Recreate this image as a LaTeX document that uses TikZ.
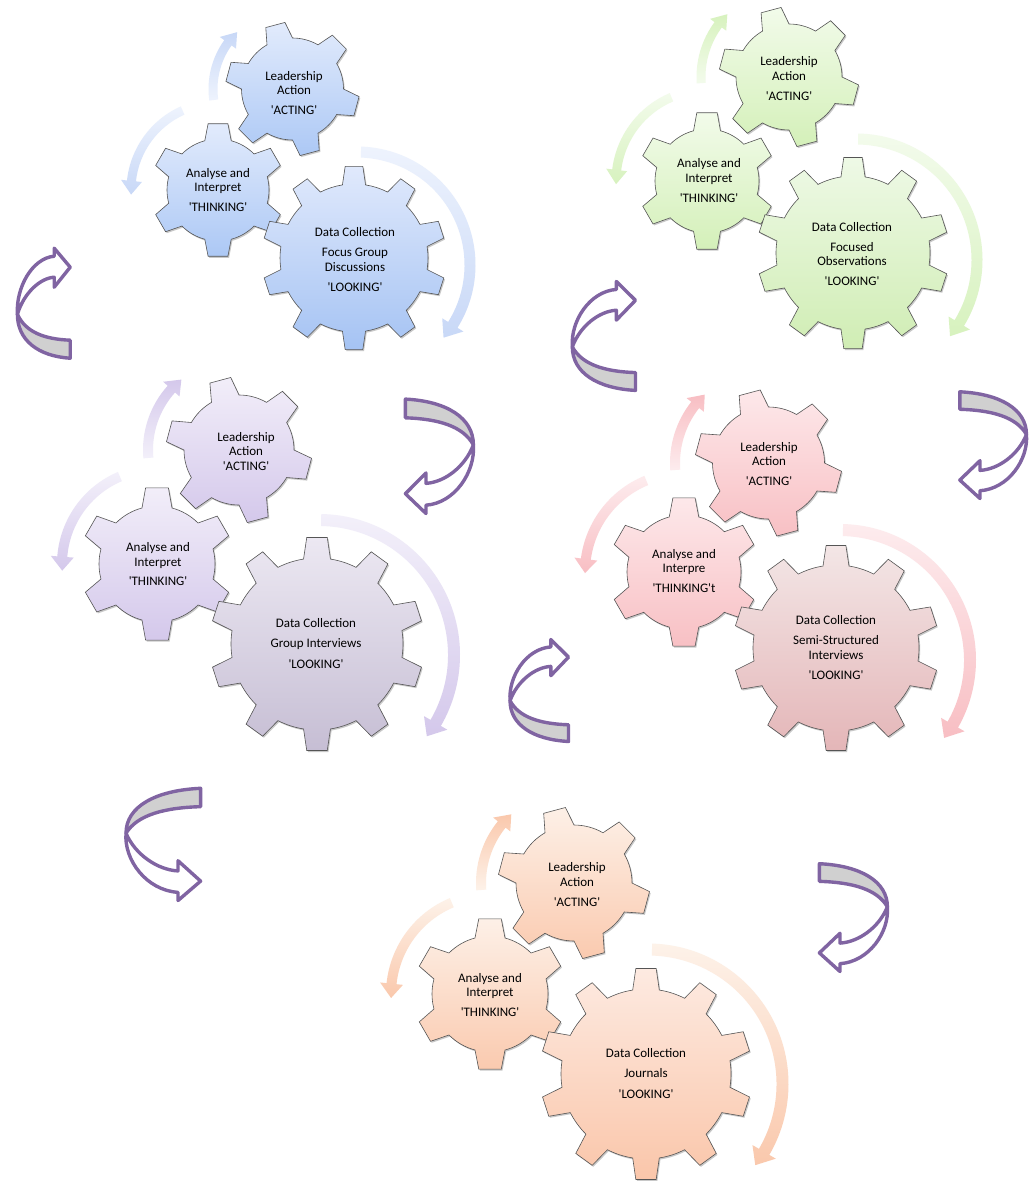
\documentclass[tikz,border=0pt]{standalone}
\usepackage{fontspec}
\setmainfont{Carlito}[Ligatures=TeXOff]
\usetikzlibrary{shadows}

\definecolor{upurple}{RGB}{128,100,162}
\definecolor{ugray}{RGB}{208,208,208}
\definecolor{gline}{RGB}{85,85,85}
% blue
\definecolor{bGT}{RGB}{226,235,252}\definecolor{bGB}{RGB}{172,200,245}
\definecolor{bDT}{RGB}{224,233,252}\definecolor{bDB}{RGB}{165,195,243}
\definecolor{bAl}{RGB}{238,243,253}\definecolor{bAd}{RGB}{200,216,247}
% green
\definecolor{gGT}{RGB}{242,251,234}\definecolor{gGB}{RGB}{212,240,185}
\definecolor{gDT}{RGB}{238,249,230}\definecolor{gDB}{RGB}{208,237,180}
\definecolor{gAl}{RGB}{243,251,236}\definecolor{gAd}{RGB}{215,242,190}
% purple
\definecolor{pGT}{RGB}{242,238,249}\definecolor{pGB}{RGB}{212,200,235}
\definecolor{pDT}{RGB}{236,232,242}\definecolor{pDB}{RGB}{198,190,212}
\definecolor{pAl}{RGB}{243,240,250}\definecolor{pAd}{RGB}{212,200,235}
% pink
\definecolor{kGT}{RGB}{253,232,234}\definecolor{kGB}{RGB}{248,192,196}
\definecolor{kDT}{RGB}{243,230,230}\definecolor{kDB}{RGB}{228,182,184}
\definecolor{kAl}{RGB}{253,236,238}\definecolor{kAd}{RGB}{248,190,195}
% orange
\definecolor{oGT}{RGB}{253,240,231}\definecolor{oGB}{RGB}{250,202,175}
\definecolor{oDT}{RGB}{253,234,225}\definecolor{oDB}{RGB}{250,198,170}
\definecolor{oAl}{RGB}{253,242,233}\definecolor{oAd}{RGB}{250,200,172}

\tikzset{
  gearbody/.style={draw=gline, line width=0.6pt,
    drop shadow={shadow xshift=1.2pt, shadow yshift=-1.5pt, opacity=0.3, fill=black!70}},
  gtxt/.style={align=center, font=\fontsize{13}{14.5}\selectfont, inner sep=0pt, text=black},
  uback/.style={fill=ugray, draw=upurple, line width=3.4pt, line join=round},
  ufront/.style={fill=white, draw=upurple, line width=3.4pt, line join=round}
}

% gear: #1 centre, #2 R, #3 r, #4 teeth, #5 offset, #6 tip half angle, #7 base half angle, #8 colours
\newcommand\mygear[8]{%
  \pgfmathsetmacro\gstep{360/#4}%
  \begin{scope}[shift={#1}]
    \path[gearbody,#8] ({#5-#7}:#3)
      \foreach \k in {1,...,#4}{
        -- ({#5+(\k-1)*\gstep-#6}:#2) -- ({#5+(\k-1)*\gstep+#6}:#2)
        -- ({#5+(\k-1)*\gstep+#7}:#3)
        arc[start angle={#5+(\k-1)*\gstep+#7}, end angle={#5+\k*\gstep-#7}, radius=#3]
      } -- cycle;
  \end{scope}}

% circular arrow: #1 centre, #2 radius, #3 tail angle, #4 head base angle, #5 tip angle, #6 shaft width, #7 head width, #8 colours
\newcommand\cyc[8]{%
  \begin{scope}[shift={#1}]
    \path[#8] (#3:{#2+#6/2}) arc[start angle=#3, end angle=#4, radius={#2+#6/2}]
      -- (#4:{#2+#7/2}) -- (#5:#2) -- (#4:{#2-#7/2}) -- (#4:{#2-#6/2})
      arc[start angle=#4, end angle=#3, radius={#2-#6/2}] -- cycle;
  \end{scope}}

% purple u-turn arrow
\newcommand\uturn[1]{%
  \begin{scope}[#1]
    \path[uback] (70,110) .. controls (30,108) and (4,92) .. (4,66)
      .. controls (14,84) and (38,91) .. (70,92) -- cycle;
    \path[ufront] (4,66) .. controls (2,40) and (22,10) .. (50,8) -- (50,0) -- (70,19)
      -- (50,39) -- (50,29) .. controls (32,30) and (12,45) .. (4,66) -- cycle;
  \end{scope}}

\begin{document}
\begin{tikzpicture}[x=1pt,y=-1pt]
\fill[white] (0,0) rectangle (1032,1181);
\useasboundingbox (0,0) rectangle (1032,1181);

% ---------- purple u-turn arrows ----------
\uturn{shift={(14.2,248.2)}, xscale=0.80, yscale=1.0}
\uturn{shift={(568.5,281.5)}, xscale=0.957, yscale=0.99}
\uturn{shift={(506.5,639.5)}, xscale=0.886, yscale=0.927}
\uturn{shift={(477.5,513.5)}, xscale=-1.03, yscale=-1.04}
\uturn{shift={(1030.5,498.5)}, xscale=-1.01, yscale=-0.97}
\uturn{shift={(891.5,971.5)}, xscale=-1.03, yscale=-0.98}
\uturn{shift={(121.5,900.5)}, xscale=1.13, yscale=-1.02}

% ---------- blue cluster ----------
\cyc{(292,89)}{79}{172}{215.8}{226}{9}{20}{top color=bAd, bottom color=bAl}
\cyc{(218,190)}{87}{246}{186}{177}{9}{21}{top color=bAl, bottom color=bAd}
\cyc{(357,265)}{113}{-88}{32}{40}{11}{25}{top color=bAl, bottom color=bAd}
\mygear{(292.5,89)}{67}{51}{6}{255}{8.5}{15}{top color=bGT, bottom color=bGB}
\mygear{(218,190)}{67}{51}{6}{270}{8.5}{15}{top color=bGT, bottom color=bGB}
\mygear{(354,258)}{92}{74}{10}{270}{5.5}{9}{top color=bDT, bottom color=bDB}
\node[gtxt] (bL) at (294,93) {Leadership\\Action\\[5.5pt]'ACTING'};
\node[gtxt] (bA) at (218,190) {Analyse and\\Interpret\\[5.5pt]'THINKING'};
\node[gtxt] (bD) at (355,259.5) {Data Collection\\[5.5pt]Focus Group\\Discussions\\[5.5pt]'LOOKING'};

% ---------- green cluster ----------
\cyc{(789,77)}{88}{176}{216.4}{225.5}{9}{20}{top color=gAd, bottom color=gAl}
\cyc{(707,181)}{91}{247}{187}{178}{9}{21}{top color=gAl, bottom color=gAd}
\cyc{(856,260)}{121}{-89}{31.4}{39}{11}{25}{top color=gAl, bottom color=gAd}
\mygear{(789,77)}{70}{53}{6}{255}{8.5}{15}{top color=gGT, bottom color=gGB}
\mygear{(707,181)}{69}{52}{6}{270}{8.5}{15}{top color=gGT, bottom color=gGB}
\mygear{(853,253)}{96}{77}{10}{270}{5.5}{9}{top color=gDT, bottom color=gDB}
\node[gtxt] (gL) at (789,79) {Leadership\\Action\\[6pt]'ACTING'};
\node[gtxt] (gA) at (709,181) {Analyse and\\Interpret\\[6pt]'THINKING'};
\node[gtxt] (gD) at (852,254) {Data Collection\\[5.5pt]Focused\\Observations\\[5.5pt]'LOOKING'};

% ---------- purple cluster ----------
\cyc{(239,450)}{91}{175}{222}{230.7}{10}{22}{top color=pAd, bottom color=pAl}
\cyc{(157,564)}{95}{247}{184.4}{176}{10}{23}{top color=pAl, bottom color=pAd}
\cyc{(319,655)}{135}{-89}{30.2}{37}{12}{27}{top color=pAl, bottom color=pAd}
\mygear{(239,450)}{73}{55}{6}{255}{8.5}{15}{top color=pGT, bottom color=pGB}
\mygear{(157,564)}{77}{58}{6}{270}{8.5}{15}{top color=pGT, bottom color=pGB}
\mygear{(317,644)}{107}{86}{10}{270}{5.5}{9}{top color=pDT, bottom color=pDB}
\node[gtxt] (pL) at (246,451.5) {Leadership\\Action\\'ACTING'};
\node[gtxt] (pA) at (158,564) {Analyse and\\Interpret\\[4.5pt]'THINKING'};
\node[gtxt] (pD) at (316,643.5) {Data Collection\\[5.5pt]Group Interviews\\[6pt]'LOOKING'};

% ---------- pink cluster ----------
\cyc{(768.5,463)}{93.5}{175.7}{218.4}{227}{10}{22}{top color=kAd, bottom color=kAl}
\cyc{(684,572)}{99}{247.6}{187.5}{179.4}{10}{23}{top color=kAl, bottom color=kAd}
\cyc{(840,660)}{130}{-88.7}{29.8}{36.8}{12}{27}{top color=kAl, bottom color=kAd}
\mygear{(768.5,463)}{73.5}{56}{6}{255}{8.5}{15}{top color=kGT, bottom color=kGB}
\mygear{(684,572)}{75}{57}{6}{270}{8.5}{15}{top color=kGT, bottom color=kGB}
\mygear{(836,648)}{103}{83}{10}{270}{5.5}{9}{top color=kDT, bottom color=kDB}
\node[gtxt] (kL) at (769,464) {Leadership\\Action\\[5.5pt]'ACTING'};
\node[gtxt] (kA) at (684,571) {Analyse and\\Interpre\\[5.5pt]'THINKING't};
\node[gtxt] (kD) at (836,647.5) {Data Collection\\[5.5pt]Semi-Structured\\Interviews\\[5.5pt]'LOOKING'};

% ---------- orange cluster ----------
\cyc{(574,883)}{93}{175.7}{219}{227.6}{10}{22}{top color=oAd, bottom color=oAl}
\cyc{(490,994)}{99}{247.3}{186}{177.7}{10}{23}{top color=oAl, bottom color=oAd}
\cyc{(648,1084)}{134.5}{-88.3}{30.3}{37.1}{12}{27}{top color=oAl, bottom color=oAd}
\mygear{(574,883)}{76}{58}{6}{255}{8.5}{15}{top color=oGT, bottom color=oGB}
\mygear{(490,994)}{76}{58}{6}{270}{8.5}{15}{top color=oGT, bottom color=oGB}
\mygear{(646,1074)}{106}{85}{10}{270}{5.5}{9}{top color=oDT, bottom color=oDB}
\node[gtxt] (oL) at (577,884.5) {Leadership\\Action\\[5.5pt]'ACTING'};
\node[gtxt] (oA) at (490,995) {Analyse and\\Interpret\\[5.5pt]'THINKING'};
\node[gtxt] (oD) at (646,1073.5) {Data Collection\\[5.5pt]Journals\\[6pt]'LOOKING'};
\end{tikzpicture}
\end{document}
